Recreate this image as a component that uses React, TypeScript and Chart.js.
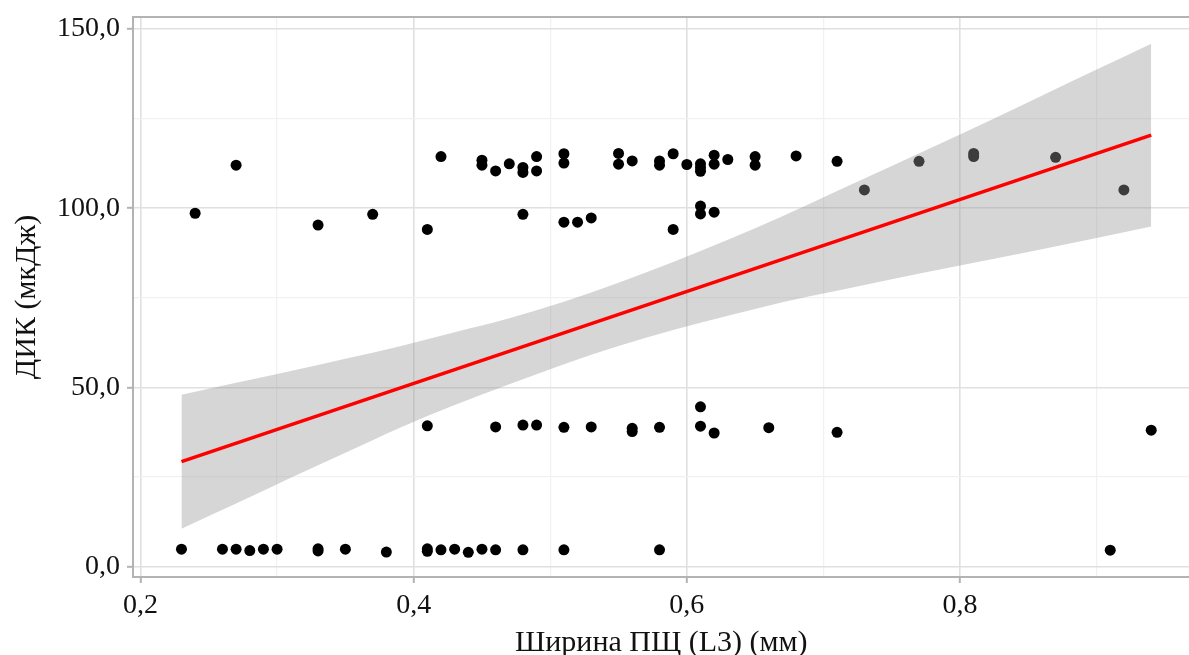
import React, { useEffect, useRef } from "react";
import { Chart, registerables } from "chart.js";

Chart.register(...registerables);

// Scatter points (x = ширина ПЩ, y = ДИК)
const POINT_X = [
  0.23, 0.26, 0.27, 0.28, 0.29, 0.30, 0.33, 0.33, 0.35, 0.38, 0.41, 0.41, 0.42, 0.43, 0.44, 0.45, 0.46, 0.48, 0.51, 0.58, 0.91,
  0.41, 0.46, 0.48, 0.49, 0.51, 0.53, 0.56, 0.56, 0.58, 0.61, 0.61, 0.62, 0.66, 0.71, 0.94,
  0.24, 0.27, 0.33, 0.37, 0.41, 0.42, 0.45, 0.45, 0.46, 0.47, 0.48, 0.48, 0.48, 0.49, 0.49, 0.51, 0.51, 0.51, 0.52, 0.53,
  0.55, 0.55, 0.56, 0.58, 0.58, 0.59, 0.59, 0.60, 0.61, 0.61, 0.61, 0.61, 0.61, 0.62, 0.62, 0.62, 0.63, 0.65, 0.65, 0.68,
  0.71, 0.73, 0.77, 0.81, 0.81, 0.87, 0.92,
];
const POINT_Y = [
  4.9, 4.9, 4.9, 4.5, 4.9, 4.9, 5.0, 4.4, 4.9, 4.1, 5.0, 4.3, 4.7, 4.9, 4.0, 4.9, 4.7, 4.7, 4.7, 4.7, 4.6,
  39.3, 39.0, 39.5, 39.5, 38.9, 39.0, 38.6, 37.7, 38.9, 44.6, 39.2, 37.3, 38.8, 37.5, 38.1,
  98.6, 112.0, 95.3, 98.3, 94.1, 114.4, 113.4, 112.0, 110.4, 112.4, 111.4, 110.0, 98.3, 114.4, 110.4, 115.2, 112.6, 96.1, 96.1, 97.3,
  115.3, 112.3, 113.2, 113.2, 112.0, 115.2, 94.1, 112.2, 112.4, 111.3, 110.3, 100.6, 98.4, 114.8, 112.3, 98.9, 113.6, 114.4, 112.0, 114.6,
  113.1, 105.1, 113.1, 115.3, 114.4, 114.2, 105.1,
];

// Regression line
const FIT_X = [0.23, 0.94];
const FIT_Y = [29.3, 120.4];

// Confidence band
const BAND_X = [0.23, 0.27, 0.31, 0.35, 0.39, 0.43, 0.47, 0.51, 0.55, 0.59, 0.63, 0.67, 0.71, 0.75, 0.80, 0.85, 0.90, 0.94];
const BAND_UPPER = [48.0, 51.3, 54.6, 58.0, 61.5, 65.4, 69.3, 73.9, 79.2, 85.0, 91.2, 97.8, 104.8, 111.8, 120.6, 129.6, 138.7, 145.9];
const BAND_LOWER = [10.6, 17.6, 24.8, 31.8, 38.8, 45.1, 50.9, 56.5, 61.6, 66.0, 70.0, 73.8, 77.0, 80.2, 84.0, 87.8, 91.7, 94.9];

// Axis ticks
const X_TICKS = [0.2, 0.3, 0.4, 0.5, 0.6, 0.7, 0.8, 0.9];
const X_MAJOR = [0.2, 0.4, 0.6, 0.8];
const Y_TICKS = [0, 25, 50, 75, 100, 125, 150];
const Y_MAJOR = [0, 50, 100, 150];

const X_TITLE = "Ширина ПЩ (L3) (мм)";
const Y_TITLE = "ДИК (мкДж)";

const FONT = "'Liberation Serif', 'Times New Roman', serif";
const AXIS_GRAY = "#b3b3b3";

const isMajor = (list: number[], v: number) => list.some((m) => Math.abs(m - v) < 1e-6);
const fmt = (v: number) => v.toFixed(1).replace(".", ",");

const topBorder = {
  id: "topBorder",
  afterDatasetsDraw(chart: any) {
    const { ctx, chartArea } = chart;
    ctx.save();
    ctx.strokeStyle = AXIS_GRAY;
    ctx.lineWidth = 2;
    ctx.beginPath();
    ctx.moveTo(chartArea.left - 1, chartArea.top);
    ctx.lineTo(chartArea.right + 10, chartArea.top);
    ctx.stroke();
    ctx.restore();
  },
};

export default function App() {
  const ref = useRef<HTMLCanvasElement | null>(null);

  useEffect(() => {
    if (!ref.current) return;
    const points = POINT_X.map((x, i) => ({ x, y: POINT_Y[i] }));
    const fit = FIT_X.map((x, i) => ({ x, y: FIT_Y[i] }));
    const upper = BAND_X.map((x, i) => ({ x, y: BAND_UPPER[i] }));
    const lower = BAND_X.map((x, i) => ({ x, y: BAND_LOWER[i] }));

    const chart = new Chart(ref.current, {
      type: "scatter",
      data: {
        datasets: [
          {
            type: "scatter",
            data: points,
            pointRadius: 5.5,
            pointBackgroundColor: "#000",
            pointBorderWidth: 0,
            order: 3,
          } as any,
          {
            type: "line",
            data: upper,
            borderWidth: 0,
            pointRadius: 0,
            fill: "+1",
            backgroundColor: "rgba(153,153,153,0.4)",
            cubicInterpolationMode: "monotone",
            order: 2,
          } as any,
          {
            type: "line",
            data: lower,
            borderWidth: 0,
            pointRadius: 0,
            fill: false,
            cubicInterpolationMode: "monotone",
            order: 2,
          } as any,
          {
            type: "line",
            data: fit,
            borderColor: "#ff0000",
            borderWidth: 3.5,
            pointRadius: 0,
            fill: false,
            order: 1,
          } as any,
        ],
      },
      options: {
        animation: false,
        responsive: false,
        layout: { padding: { top: 17, right: 0, bottom: 0, left: 0 } },
        plugins: { legend: { display: false }, tooltip: { enabled: false } },
        scales: {
          x: {
            type: "linear",
            min: 0.19451,
            max: 0.96803,
            afterBuildTicks: (s: any) => {
              s.ticks = X_TICKS.map((v) => ({ value: v }));
            },
            afterFit: (s: any) => {
              s.height = 78;
              s.paddingLeft = 0;
              s.paddingRight = 0;
            },
            ticks: {
              autoSkip: false,
              maxRotation: 0,
              padding: 6,
              color: "#111",
              font: { family: FONT, size: 28 },
              callback: (v: any) => (isMajor(X_MAJOR, Number(v)) ? fmt(Number(v)) : ""),
            },
            grid: {
              color: (c: any) => (c.tick && isMajor(X_MAJOR, c.tick.value) ? "#e0e0e0" : "#f1f1f1"),
              lineWidth: (c: any) => (c.tick && isMajor(X_MAJOR, c.tick.value) ? 1.6 : 1.2),
              tickColor: (c: any) => (c.tick && isMajor(X_MAJOR, c.tick.value) ? AXIS_GRAY : "rgba(0,0,0,0)"),
              tickLength: 6,
              tickWidth: 2,
            },
            border: { color: AXIS_GRAY, width: 2 },
            title: {
              display: true,
              text: X_TITLE,
              color: "#111",
              font: { family: FONT, size: 30, lineHeight: 0.8 },
              padding: { top: 0, bottom: 0 },
            },
          },
          y: {
            type: "linear",
            min: -2.87,
            max: 153.35,
            afterBuildTicks: (s: any) => {
              s.ticks = Y_TICKS.map((v) => ({ value: v }));
            },
            afterFit: (s: any) => {
              s.width = 133;
              s.paddingTop = 0;
              s.paddingBottom = 0;
            },
            ticks: {
              autoSkip: false,
              padding: 7,
              color: "#111",
              font: { family: FONT, size: 28 },
              callback: (v: any) => (isMajor(Y_MAJOR, Number(v)) ? fmt(Number(v)) : ""),
            },
            grid: {
              color: (c: any) => (c.tick && isMajor(Y_MAJOR, c.tick.value) ? "#e0e0e0" : "#f1f1f1"),
              lineWidth: (c: any) => (c.tick && isMajor(Y_MAJOR, c.tick.value) ? 1.6 : 1.2),
              tickColor: (c: any) => (c.tick && isMajor(Y_MAJOR, c.tick.value) ? AXIS_GRAY : "rgba(0,0,0,0)"),
              tickLength: 6,
              tickWidth: 2,
            },
            border: { color: AXIS_GRAY, width: 2 },
            title: {
              display: true,
              text: Y_TITLE,
              color: "#111",
              font: { family: FONT, size: 30, lineHeight: 1.2 },
              padding: { top: 9.5, bottom: 0 },
            },
          },
        },
      } as any,
      plugins: [topBorder],
    });
    return () => chart.destroy();
  }, []);

  return (
    <div
      style={{
        position: "absolute",
        left: 0,
        top: 0,
        width: 1189,
        height: 655,
        overflow: "hidden",
        background: "#fff",
      }}
    >
      <canvas ref={ref} width={1195} height={655} style={{ display: "block" }} />
    </div>
  );
}
